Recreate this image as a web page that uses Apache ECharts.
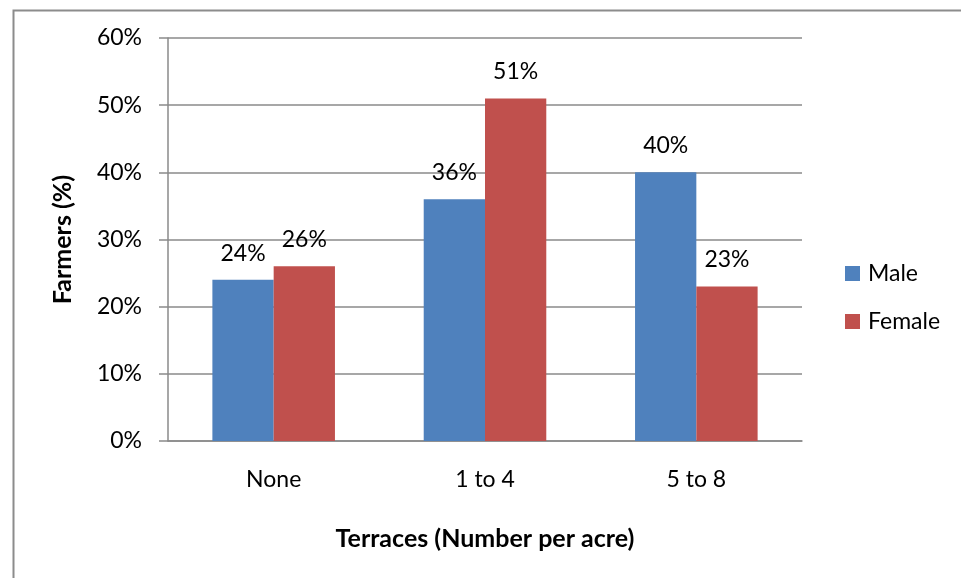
<!DOCTYPE html>
<html>
<head>
<meta charset="utf-8">
<script src="https://cdn.jsdelivr.net/npm/echarts@6/dist/echarts.min.js"></script>
<style>
  html, body { margin: 0; padding: 0; background: #fff; }
  #chart { width: 961px; height: 578px; }
</style>
</head>
<body>
<div id="chart"></div>
<script>
// Share of farmers by number of terraces per acre, split by gender
const categories = ['None', '1 to 4', '5 to 8'];
const maleValues = [24, 36, 40];
const femaleValues = [26, 51, 23];
const yTicks = [0, 10, 20, 30, 40, 50, 60];

const FONT = 'Lato, "Open Sans", sans-serif';
const GRID_COLOR = '#8a8a8a';
const FS = 23;

const chart = echarts.init(document.getElementById('chart'), null, { renderer: 'canvas' });

const labelStyle = {
  show: true,
  position: 'top',
  distance: 15,
  formatter: p => p.value + '%',
  fontFamily: FONT,
  fontSize: FS,
  color: '#000'
};

chart.setOption({
  backgroundColor: '#fff',
  animation: false,
  textStyle: { fontFamily: FONT },
  graphic: [{
    type: 'rect',
    left: 11,
    top: 8,
    shape: { x: 0, y: 0, width: 1000, height: 1000 },
    style: { fill: 'none', stroke: '#8c8c8c', lineWidth: 2 },
    silent: true,
    z: -1
  }],
  grid: { left: 168, right: 159, top: 38, bottom: 137, containLabel: false },
  legend: {
    orient: 'vertical',
    left: 840,
    top: 257,
    itemWidth: 15,
    itemHeight: 15,
    itemGap: 25,
    icon: 'rect',
    textStyle: { fontFamily: FONT, fontSize: FS, color: '#000', padding: [0, 0, 0, 3] },
    data: ['Male', 'Female']
  },
  xAxis: {
    type: 'category',
    data: categories,
    name: 'Terraces (Number per acre)',
    nameLocation: 'middle',
    nameGap: 85,
    nameTextStyle: { fontFamily: FONT, fontSize: 25, fontWeight: 'bold', color: '#000' },
    axisLine: { lineStyle: { color: GRID_COLOR, width: 1.5 } },
    axisTick: { show: false },
    axisLabel: { margin: 27, fontFamily: FONT, fontSize: FS, color: '#000' }
  },
  yAxis: {
    type: 'value',
    min: yTicks[0],
    max: yTicks[yTicks.length - 1],
    interval: 10,
    name: 'Farmers (%)',
    nameLocation: 'middle',
    nameGap: 93,
    nameTextStyle: { fontFamily: FONT, fontSize: 25, fontWeight: 'bold', color: '#000' },
    axisLine: { show: true, lineStyle: { color: GRID_COLOR, width: 1.5 } },
    axisTick: { show: true, length: 9, lineStyle: { color: GRID_COLOR, width: 1.5 } },
    splitLine: { lineStyle: { color: GRID_COLOR, width: 1.5 } },
    axisLabel: { margin: 26, fontFamily: FONT, fontSize: FS, color: '#000', formatter: v => v + '%' }
  },
  series: [
    {
      name: 'Male',
      type: 'bar',
      data: maleValues,
      barGap: '0%',
      barCategoryGap: '42%',
      itemStyle: { color: '#4F81BD' },
      label: labelStyle
    },
    {
      name: 'Female',
      type: 'bar',
      data: femaleValues,
      barGap: '0%',
      barCategoryGap: '42%',
      itemStyle: { color: '#C0504D' },
      label: labelStyle
    }
  ]
});
</script>
</body>
</html>
